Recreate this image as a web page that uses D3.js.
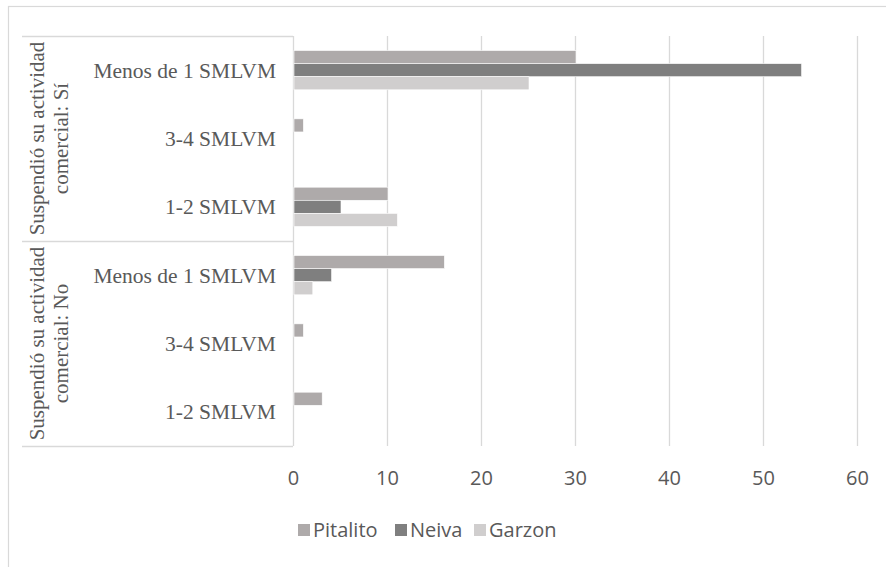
<!DOCTYPE html>
<html><head><meta charset="utf-8">
<script src="https://cdn.jsdelivr.net/npm/d3@7"></script>
<style>html,body{margin:0;padding:0;background:#fff;}svg{display:block;}</style>
</head><body>
<svg id="chart" width="886" height="567"></svg>
<script>
const groups = ["Suspendió su actividad|comercial: Sí", "Suspendió su actividad|comercial: No"];
const categories = ["Menos de 1 SMLVM", "3-4 SMLVM", "1-2 SMLVM"];
const seriesNames = ["Pitalito", "Neiva", "Garzon"];
const seriesColors = ["#aeaaaa", "#7f7f7f", "#d0cece"];
// values per row: [group 0 cats..., group 1 cats...]
const pitalito = [30, 1, 10, 16, 1, 3];
const neiva    = [54, 0, 5, 4, 0, 0];
const garzon   = [25, 0, 11, 2, 0, 0];
const xTicks = [0, 10, 20, 30, 40, 50, 60];

const svg = d3.select("#chart");
const seriesVals = [pitalito, neiva, garzon];
const rows = [];
groups.forEach((g, gi) => categories.forEach((c, ci) => rows.push({g: gi, c, key: gi + "-" + ci})));

const x = d3.scaleLinear().domain([0, 60]).range([293, 857]);
const y = d3.scaleBand().domain(rows.map(r => r.key)).range([36, 446]).paddingInner(0).paddingOuter(0);
const barGroupH = y.bandwidth() * 0.575;
const ys = d3.scaleBand().domain(seriesNames).range([0, barGroupH]).padding(0);

// outer chart border (clipped at right/bottom)
svg.append("rect").attr("x", 8.5).attr("y", 6.5).attr("width", 900).attr("height", 600)
  .attr("fill", "none").attr("stroke", "#d9d9d9").attr("stroke-width", 1.2);

// gridlines
svg.append("g").selectAll("line").data(xTicks.slice(1)).join("line")
  .attr("x1", d => Math.round(x(d)) + 0.5).attr("x2", d => Math.round(x(d)) + 0.5)
  .attr("y1", 36).attr("y2", 446).attr("stroke", "#d9d9d9").attr("stroke-width", 1.3);

// category axis lines
const boundaries = [36, y(rows[3].key), 446];
svg.append("g").selectAll("line").data(boundaries).join("line")
  .attr("x1", 22).attr("x2", 293).attr("y1", d => Math.round(d) + 0.5).attr("y2", d => Math.round(d) + 0.5)
  .attr("stroke", "#d9d9d9").attr("stroke-width", 1.3);
svg.append("line").attr("x1", 293.5).attr("x2", 293.5).attr("y1", 36).attr("y2", 446)
  .attr("stroke", "#d9d9d9").attr("stroke-width", 1.3);

// bars
seriesNames.forEach((s, si) => {
  svg.append("g").selectAll("rect").data(rows).join("rect")
    .attr("x", x(0) + 1)
    .attr("y", d => y(d.key) + (y.bandwidth() - barGroupH) / 2 + ys(s))
    .attr("width", (d, i) => Math.max(0, x(seriesVals[si][i]) - x(0)))
    .attr("height", ys.bandwidth())
    .attr("fill", seriesColors[si])
    .attr("stroke", "#ffffff").attr("stroke-width", 0.6);
});

// category labels
svg.append("g").selectAll("text").data(rows).join("text")
  .attr("x", 276).attr("y", d => y(d.key) + y.bandwidth() / 2)
  .attr("dy", "0.35em").attr("text-anchor", "end")
  .attr("font-family", "'Liberation Serif', 'Times New Roman', serif")
  .attr("font-size", "21.5px").attr("fill", "#595959")
  .text(d => d.c);

// group labels (rotated)
groups.forEach((g, gi) => {
  const cy = (boundaries[gi] + boundaries[gi + 1]) / 2;
  const lines = g.split("|");
  lines.forEach((ln, li) => {
    svg.append("text")
      .attr("transform", `translate(${37 + li * 24},${cy}) rotate(-90)`)
      .attr("text-anchor", "middle").attr("dy", "0.35em")
      .attr("font-family", "'Liberation Serif', 'Times New Roman', serif")
      .attr("font-size", "21px").attr("fill", "#595959")
      .text(ln);
  });
});

// x axis tick labels
const xAxis = d3.axisBottom(x).tickValues(xTicks).tickSize(0).tickPadding(0);
const gx = svg.append("g").attr("transform", "translate(0,478)").call(xAxis);
gx.select(".domain").remove();
gx.selectAll("text").attr("dy", "0.35em").attr("y", 0)
  .attr("font-family", "'Open Sans', 'Liberation Sans', sans-serif")
  .attr("font-size", "20px").attr("fill", "#595959");

// legend
const legendX = [298, 395, 474];
const lg = svg.append("g").selectAll("g").data(seriesNames).join("g")
  .attr("transform", (d, i) => `translate(${legendX[i]},530)`);
lg.append("rect").attr("x", 0).attr("y", -6).attr("width", 12).attr("height", 12)
  .attr("fill", (d, i) => seriesColors[i]);
lg.append("text").attr("x", 15).attr("y", 0).attr("dy", "0.35em")
  .attr("font-family", "'Open Sans', 'Liberation Sans', sans-serif")
  .attr("font-size", "20px").attr("fill", "#595959").text(d => d);
</script>
</body></html>
